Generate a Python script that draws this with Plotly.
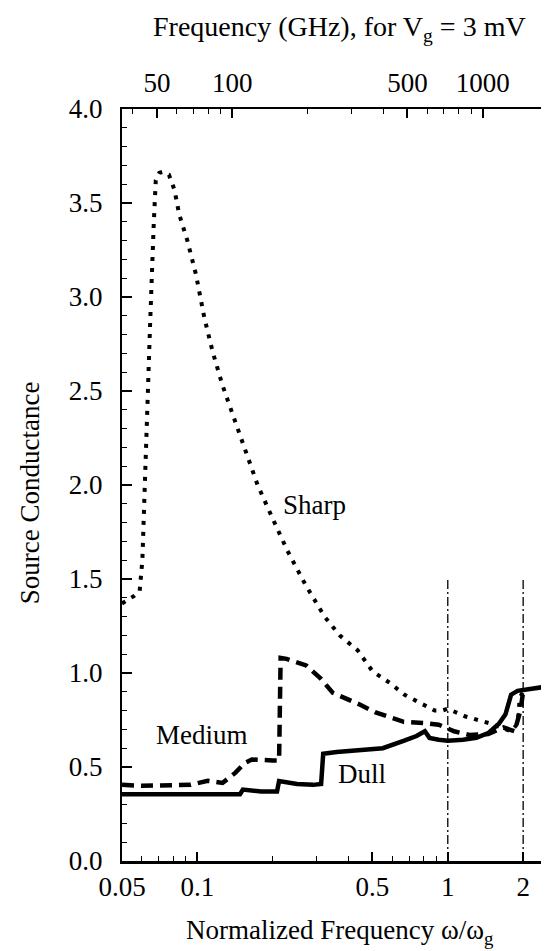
import math
import plotly.graph_objects as go

# frequency scale: omega_g for Vg = 3 mV, in GHz
F_GAP_GHZ = 725.0

X_MIN = 0.05
X_MAX = 2.73

dull_x = [0.05, 0.08, 0.12, 0.148, 0.152, 0.18, 0.208, 0.212, 0.25, 0.29, 0.312, 0.318,
          0.36, 0.45, 0.55, 0.67, 0.75, 0.81, 0.845, 0.92, 1.0, 1.15, 1.3, 1.45, 1.6,
          1.7, 1.79, 1.9, 2.1, 2.4, 2.73]
dull_y = [0.355, 0.355, 0.355, 0.355, 0.38, 0.37, 0.37, 0.425, 0.41, 0.405, 0.41, 0.57,
          0.58, 0.59, 0.60, 0.64, 0.665, 0.69, 0.655, 0.645, 0.64, 0.645, 0.655, 0.68, 0.73,
          0.78, 0.885, 0.905, 0.915, 0.925, 0.935]

medium_x = [0.05, 0.06, 0.094, 0.11, 0.126, 0.142, 0.154, 0.165, 0.2, 0.212, 0.215, 0.227,
            0.272, 0.311, 0.347, 0.387, 0.449, 0.515, 0.667, 0.80, 0.92, 1.06, 1.22, 1.45,
            1.67, 1.85, 1.95, 2.0]
medium_y = [0.405, 0.40, 0.405, 0.427, 0.415, 0.47, 0.52, 0.54, 0.535, 0.535, 1.08, 1.075,
            1.04, 0.97, 0.895, 0.868, 0.83, 0.79, 0.74, 0.734, 0.725, 0.69, 0.67, 0.675,
            0.71, 0.69, 0.80, 0.90]

sharp_x = [0.05, 0.0559, 0.0588, 0.0603, 0.0615, 0.0631, 0.0648, 0.067, 0.0682, 0.0704,
           0.0724, 0.077, 0.081, 0.0846, 0.0912, 0.0987, 0.1066, 0.115, 0.126, 0.14, 0.156,
           0.174, 0.20, 0.229, 0.27, 0.322, 0.37, 0.437, 0.5, 0.59, 0.67, 0.76, 0.887,
           0.95, 1.0, 1.17, 1.49, 1.79, 1.9, 1.94, 2.0]
sharp_y = [1.37, 1.41, 1.435, 1.6, 1.95, 2.48, 2.87, 3.40, 3.62, 3.66, 3.665, 3.65, 3.57,
           3.44, 3.30, 3.12, 2.89, 2.71, 2.53, 2.356, 2.18, 2.0, 1.82, 1.65, 1.47, 1.30,
           1.20, 1.12, 1.01, 0.945, 0.885, 0.845, 0.80, 0.80, 0.81, 0.77, 0.73, 0.69,
           0.73, 0.87, 0.90]

marker_x = [1, 2]
marker_top = 1.5

bottom_ticks = [0.05, 0.1, 0.5, 1, 2]
bottom_labels = ['0.05', '0.1', '0.5', '1', '2']
bottom_minor = [0.06, 0.07, 0.08, 0.09, 0.2, 0.3, 0.4, 0.6, 0.7, 0.8, 0.9]
top_ticks = [50, 100, 500, 1000]
top_labels = ['50', '100', '500', '1000']
top_minor = [40, 60, 70, 80, 90, 200, 300, 400, 600, 700, 800, 900, 2000]

FONT = 'Liberation Serif, Times New Roman, serif'
BLACK = 'black'
TXT = 27

fig = go.Figure()

for xv in marker_x:
    fig.add_trace(go.Scatter(x=[xv, xv], y=[0, marker_top], mode='lines',
                             line=dict(color=BLACK, width=1.3, dash='9px,3px,2px,3px'),
                             showlegend=False, hoverinfo='skip'))

fig.add_trace(go.Scatter(x=sharp_x, y=sharp_y, mode='lines', name='Sharp',
                         line=dict(color=BLACK, width=4, dash='4px,7px')))
fig.add_trace(go.Scatter(x=medium_x, y=medium_y, mode='lines', name='Medium',
                         line=dict(color=BLACK, width=4.5, dash='12px,7px')))
fig.add_trace(go.Scatter(x=dull_x, y=dull_y, mode='lines', name='Dull',
                         line=dict(color=BLACK, width=4.5)))
# invisible trace so the top GHz axis is drawn
fig.add_trace(go.Scatter(x=[X_MIN * F_GAP_GHZ, X_MAX * F_GAP_GHZ], y=[0, 0], xaxis='x2',
                         mode='lines', line=dict(width=0), showlegend=False, hoverinfo='skip'))

labels = [('Sharp', 0.294, 1.894), ('Medium', 0.1047, 0.67), ('Dull', 0.453, 0.463)]
for txt, xv, yv in labels:
    fig.add_annotation(x=math.log10(xv), y=yv, xref='x', yref='y', text=txt,
                       xanchor='center', yanchor='middle', showarrow=False,
                       font=dict(size=TXT, color=BLACK, family=FONT))

fig.add_annotation(x=0.5, y=1.107, xref='paper', yref='paper',
                   xanchor='center', yanchor='middle',
                   text='Frequency (GHz), for V<sub>g</sub> = 3 mV', showarrow=False,
                   font=dict(size=TXT + 1, color=BLACK, family=FONT))
fig.add_annotation(x=0.5, y=-0.094, xref='paper', yref='paper',
                   xanchor='center', yanchor='middle',
                   text='Normalized Frequency ω/ω<sub>g</sub>', showarrow=False,
                   font=dict(size=TXT, color=BLACK, family=FONT))
fig.add_annotation(x=-0.212, y=0.49, xref='paper', yref='paper', textangle=-90,
                   xanchor='center', yanchor='middle',
                   text='Source Conductance', showarrow=False,
                   font=dict(size=TXT, color=BLACK, family=FONT))

fig.update_layout(
    width=549, height=951,
    margin=dict(l=114, r=0, t=101, b=98),
    paper_bgcolor='white', plot_bgcolor='white',
    showlegend=False,
    font=dict(family=FONT, size=TXT, color=BLACK),
    xaxis=dict(type='log', range=[math.log10(X_MIN), math.log10(X_MAX)],
               tickmode='array', tickvals=bottom_ticks, ticktext=bottom_labels,
               ticks='inside', ticklen=9, tickwidth=1.5, tickcolor=BLACK,
               minor=dict(tickvals=bottom_minor, ticks='inside', ticklen=5,
                          tickwidth=1, tickcolor=BLACK, showgrid=False),
               showline=True, linewidth=3, linecolor=BLACK, showgrid=False,
               zeroline=False, ticklabelstandoff=0),
    xaxis2=dict(type='log', overlaying='x', side='top', anchor='y',
                range=[math.log10(X_MIN * F_GAP_GHZ), math.log10(X_MAX * F_GAP_GHZ)],
                tickmode='array', tickvals=top_ticks, ticktext=top_labels,
                ticks='inside', ticklen=9, tickwidth=1.5, tickcolor=BLACK,
                minor=dict(tickvals=top_minor, ticks='inside', ticklen=5,
                           tickwidth=1, tickcolor=BLACK, showgrid=False),
                showline=True, linewidth=2, linecolor=BLACK, showgrid=False,
                zeroline=False, ticklabelstandoff=4),
    yaxis=dict(range=[0, 4], tickmode='linear', tick0=0, dtick=0.5, tickformat='.1f',
               ticks='inside', ticklen=10, tickwidth=1.5, tickcolor=BLACK,
               minor=dict(dtick=0.1, ticks='inside', ticklen=5, tickwidth=1,
                          tickcolor=BLACK, showgrid=False),
               showline=True, linewidth=2, linecolor=BLACK, showgrid=False,
               zeroline=False, ticklabelstandoff=12),
)

fig.write_html('out.html')
